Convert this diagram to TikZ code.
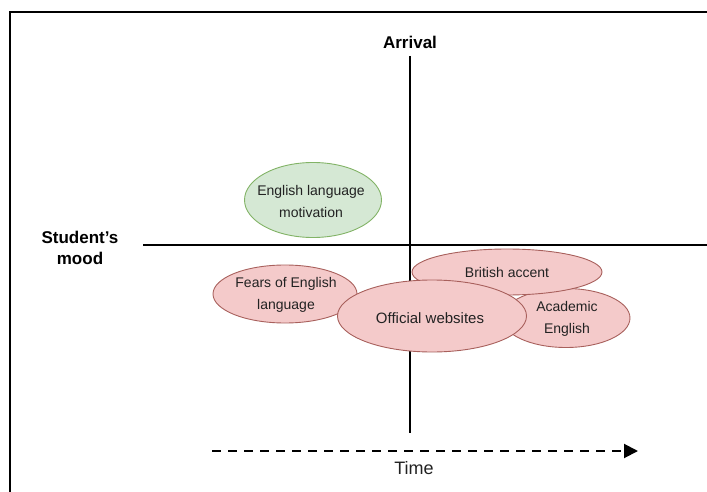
\documentclass[tikz,border=0pt]{standalone}
\usepackage{fontspec}
\setmainfont{Liberation Sans}
\usetikzlibrary{arrows.meta, shapes.geometric}
\definecolor{pinkfill}{HTML}{F4CACA}
\definecolor{pinkline}{HTML}{A8605C}
\definecolor{greenfill}{HTML}{D5E8D4}
\definecolor{greenline}{HTML}{82B366}
\definecolor{txt}{HTML}{222222}
\tikzset{
  mood/.style={ellipse, draw=pinkline, fill=pinkfill, line width=0.9pt, inner sep=0pt},
  hope/.style={mood, draw=greenline, fill=greenfill},
  lab/.style={align=center, text=txt, inner sep=0pt, font=\fontsize{14}{22}\selectfont},
  axis/.style={line width=2pt, black},
  axislabel/.style={font=\bfseries\fontsize{17}{21}\selectfont, align=center, text=black},
}
\begin{document}
\begin{tikzpicture}[x=1pt, y=-1pt]
\useasboundingbox (0,0) rectangle (707,492);
% outer frame (open on the right and bottom)
\draw[line width=2pt] (10,492) -- (10,12) -- (707,12);

% axes
\coordinate (vtop) at (410,56);
\coordinate (vbot) at (410,433);
\coordinate (hleft) at (143,245);
\coordinate (hright) at (707,245);
\draw[axis] (vtop) -- (vbot);
\draw[axis] (hleft) -- (hright);
\node[axislabel] (arrival) at (410,42) {Arrival};
\node[axislabel] (mood) at (80,248) {Student's\\mood};

% topics: the shapes first, then their texts
\node[hope, minimum width=137pt, minimum height=75pt] (motiv) at (313,200) {};
\node[lab] (motivtext) at (311,201) {English language\\motivation};

\node[mood, minimum width=128pt, minimum height=59pt] (acad) at (566,318) {};
\node[lab] (acadtext) at (567,319) {Academic\\English};

\node[mood, minimum width=190pt, minimum height=46pt] (brit) at (507,272) {};
\node[lab] (brittext) at (507,272) {British accent};

\node[mood, minimum width=144pt, minimum height=58pt] (fears) at (285,294) {};
\node[lab] (fearstext) at (286,295) {Fears of English\\language};

\node[mood, minimum width=189pt, minimum height=72pt] (web) at (432,316) {};
\node[lab, font=\fontsize{15}{18}\selectfont] (webtext) at (430,318) {Official websites};

% time arrow
\coordinate (tstart) at (212,451);
\coordinate (tend) at (638,451);
\draw[line width=2pt, dash pattern=on 9pt off 7pt, -{Triangle[length=14pt, width=14pt]}] (tstart) -- (tend);
\node[font=\fontsize{18}{20}\selectfont, text=txt] (time) at (414,468) {Time};
\end{tikzpicture}
\end{document}
